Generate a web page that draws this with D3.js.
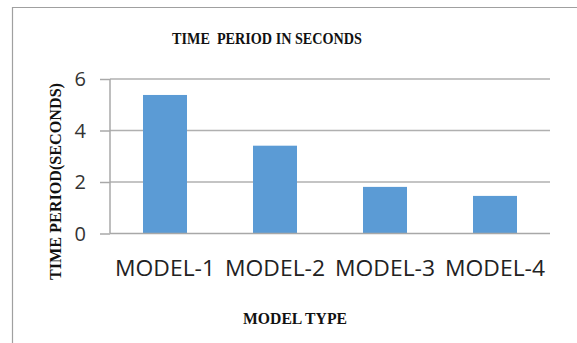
<!DOCTYPE html>
<html><head><meta charset="utf-8">
<script src="https://cdn.jsdelivr.net/npm/d3@7"></script>
<style>body{margin:0;background:#fff}svg{display:block}</style>
</head><body>
<svg id="c" width="577" height="343"></svg>
<script>
const categories = ["MODEL-1", "MODEL-2", "MODEL-3", "MODEL-4"];
const values = [5.38, 3.41, 1.81, 1.46];
const yTicks = [0, 2, 4, 6];
const title = "TIME\u00a0 PERIOD IN SECONDS";
const xTitle = "MODEL TYPE";
const yTitle = "TIME PERIOD(SECONDS)";

const svg = d3.select("#c");
const m = {left: 110, right: 27, top: 79, bottom: 110};
const W = 577, H = 343;

// frame
svg.append("path").attr("d", "M12.5,343 L12.5,7.5 L577,7.5")
  .attr("fill", "none").attr("stroke", "#a0a0a0").attr("stroke-width", 1.2);

const x = d3.scaleBand().domain(categories).range([m.left, W - m.right])
  .paddingInner(0.6).paddingOuter(0.3);
const y = d3.scaleLinear().domain([0, 6]).range([233.5, 79]);

// gridlines
svg.append("g").selectAll("line").data(yTicks.filter(d => d !== 0)).join("line")
  .attr("x1", m.left).attr("x2", W - m.right)
  .attr("y1", d => y(d)).attr("y2", d => y(d))
  .attr("stroke", "#b0b0b0").attr("stroke-width", 1.5);

// bars
svg.append("g").selectAll("rect").data(values).join("rect")
  .attr("x", (d, i) => x(categories[i])).attr("width", x.bandwidth())
  .attr("y", d => y(d)).attr("height", d => y(0) - y(d))
  .attr("fill", "#5b9bd5");

// y axis
const ya = svg.append("g").attr("transform", `translate(${m.left},0)`)
  .call(d3.axisLeft(y).tickValues(yTicks).tickSize(10).tickPadding(14).tickFormat(d3.format("d")));
ya.select(".domain").attr("stroke", "#a8a8a8").attr("stroke-width", 1.5).attr("d", `M0,${y(0)}V${y(6)}`);
ya.selectAll(".tick line").attr("stroke", "#a8a8a8").attr("stroke-width", 1.5);
ya.selectAll(".tick text").attr("font-family", "'Open Sans', sans-serif").attr("font-size", 20)
  .attr("fill", "#333").attr("dy", "0.34em");

// x axis
const xa = svg.append("g").attr("transform", `translate(0,${y(0)})`)
  .call(d3.axisBottom(x).tickSize(0).tickPadding(27));
xa.select(".domain").attr("stroke", "#a8a8a8").attr("stroke-width", 1.5).attr("d", `M${m.left},0H${W - m.right}`);
xa.selectAll(".tick text").attr("font-family", "'Open Sans', sans-serif").attr("font-size", 22.5)
  .attr("fill", "#222").attr("textLength", 100).attr("lengthAdjust", "spacingAndGlyphs");

// titles
function serifTitle(sel, size, len) {
  sel.attr("text-anchor", "middle")
    .attr("font-family", "'Liberation Serif', serif").attr("font-weight", "bold").attr("font-size", size)
    .attr("fill", "#111").attr("textLength", len).attr("lengthAdjust", "spacingAndGlyphs");
}
svg.append("text").attr("x", 267).attr("y", 43.5).text(title).call(serifTitle, 16, 190);
svg.append("text").attr("x", 295).attr("y", 324).text(xTitle).call(serifTitle, 17, 104);
svg.append("text").attr("transform", "translate(61,181.5) rotate(-90)").text(yTitle).call(serifTitle, 16.5, 197);
</script>
</body></html>
